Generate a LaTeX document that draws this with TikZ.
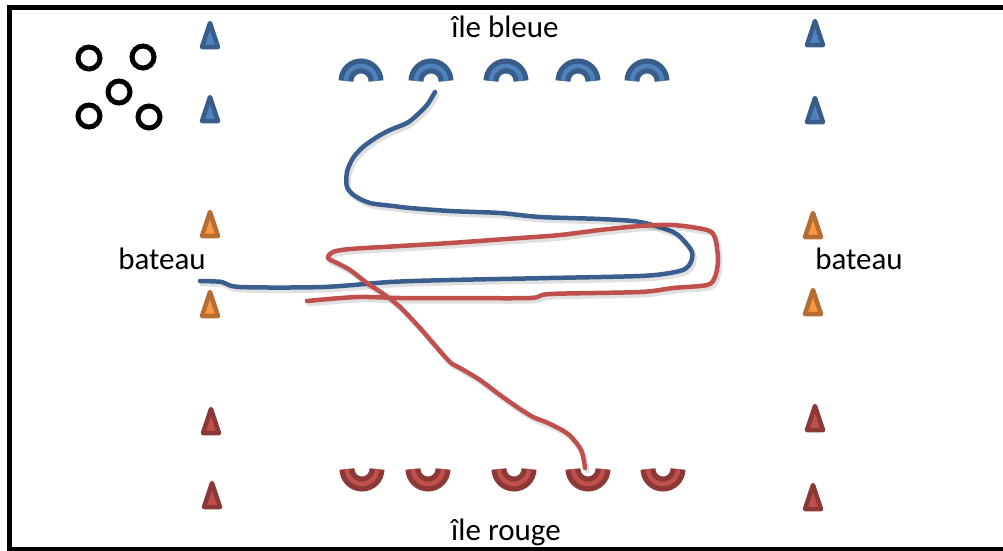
\documentclass[tikz,border=0pt]{standalone}
\usepackage{fontspec}
\setmainfont{Carlito}
\definecolor{bdark}{HTML}{385D8A}
\definecolor{blight}{HTML}{4F81BD}
\definecolor{odark}{HTML}{B66D31}
\definecolor{olight}{HTML}{F79646}
\definecolor{rdark}{HTML}{8C3836}
\definecolor{rlight}{HTML}{C0504D}
\definecolor{pathblue}{HTML}{3A5F8F}
\definecolor{pathred}{HTML}{C0504D}
\newcommand\myCone[3]{\filldraw[draw=#1dark, fill=#1light, line width=4.5pt, line join=round] (#2-8,#3+12) -- (#2,#3-12) -- (#2+8,#3+12) -- cycle;}
\newcommand\myTopArc[1]{\draw[bdark, line width=15pt] (#1-15,81) arc (180:360:15); \draw[blight, line width=4.5pt] (#1-15,81) arc (180:360:15);}
\newcommand\myBotArc[1]{\draw[rdark, line width=15pt] (#1-15,469) arc (180:0:15); \draw[rlight, line width=4.5pt] (#1-15,469) arc (180:0:15);}
\begin{document}
\begin{tikzpicture}[x=1pt,y=-1pt,
  lbl/.style={anchor=base, inner sep=0pt, font=\fontsize{31}{36}\selectfont},
  ring/.style={draw=black, line width=5pt},
  trail/.style={line width=4.5pt, line cap=round, line join=round},
  shadowtrail/.style={line width=5pt, line cap=round, line join=round, black, opacity=0.12}]
\useasboundingbox (0,0) rectangle (1003,550);
\fill[white] (0,0) rectangle (1003,550);
\draw[line width=5pt] (9,7) rectangle (1008,549.5);

% rings
\foreach \cx/\cy in {89/58, 143/57, 119/92, 89/116, 149/117}
  \draw[ring] (\cx,\cy) circle (11);

% cones
\myCone{b}{210}{35}
\myCone{b}{210}{109}
\myCone{b}{815}{33}
\myCone{b}{815}{110}
\myCone{o}{210}{224}
\myCone{o}{210}{304}
\myCone{o}{813}{225}
\myCone{o}{813}{302}
\myCone{r}{211}{421}
\myCone{r}{212}{495}
\myCone{r}{815}{418}
\myCone{r}{813}{497}

% islands
\myTopArc{361}
\myTopArc{431}
\myTopArc{506}
\myTopArc{578}
\myTopArc{647}
\myBotArc{362}
\myBotArc{428}
\myBotArc{514}
\myBotArc{588}
\myBotArc{663}

% trails
\begin{scope}[shift={(2,3)}]
\draw[shadowtrail] plot[smooth, tension=0.5] coordinates {(435,92) (427,105) (417,115) (407,123) (390,130) (377,137) (363,147) (353,158) (347,172) (347,187) (355,196) (370,203) (393,206) (410,208) (450,211) (500,213) (540,217) (600,219) (640,222) (673,232) (685,242) (692,252) (691,262) (685,269) (670,273) (640,276) (550,278) (450,280) (390,282) (323,287) (240,287) (222,282) (200,281)};
\end{scope}
\draw[trail, pathblue] plot[smooth, tension=0.5] coordinates {(435,92) (427,105) (417,115) (407,123) (390,130) (377,137) (363,147) (353,158) (347,172) (347,187) (355,196) (370,203) (393,206) (410,208) (450,211) (500,213) (540,217) (600,219) (640,222) (673,232) (685,242) (692,252) (691,262) (685,269) (670,273) (640,276) (550,278) (450,280) (390,282) (323,287) (240,287) (222,282) (200,281)};
\begin{scope}[shift={(2,3)}]
\draw[shadowtrail] plot[smooth, tension=0.5] coordinates {(585,468) (581,450) (568,434) (548,423) (533,417) (517,407) (500,395) (480,380) (460,368) (450,362) (433,343) (420,328) (400,307) (385,295) (367,283) (350,270) (337,263) (328,258) (333,252) (350,249) (400,246) (450,243) (520,238) (560,235) (600,230) (640,226) (673,225) (707,230) (715,238) (718,260) (715,277) (707,285) (673,288) (640,292) (550,294) (530,298) (450,298) (400,298) (357,297) (307,301)};
\end{scope}
\draw[trail, pathred] plot[smooth, tension=0.5] coordinates {(585,468) (581,450) (568,434) (548,423) (533,417) (517,407) (500,395) (480,380) (460,368) (450,362) (433,343) (420,328) (400,307) (385,295) (367,283) (350,270) (337,263) (328,258) (333,252) (350,249) (400,246) (450,243) (520,238) (560,235) (600,230) (640,226) (673,225) (707,230) (715,238) (718,260) (715,277) (707,285) (673,288) (640,292) (550,294) (530,298) (450,298) (400,298) (357,297) (307,301)};

% labels
\node[lbl] (bleue) at (505,37) {île bleue};
\node[lbl] (rouge) at (506,540) {île rouge};
\node[lbl] (bateauL) at (162,269) {bateau};
\node[lbl] (bateauR) at (859,269) {bateau};
\end{tikzpicture}
\end{document}
